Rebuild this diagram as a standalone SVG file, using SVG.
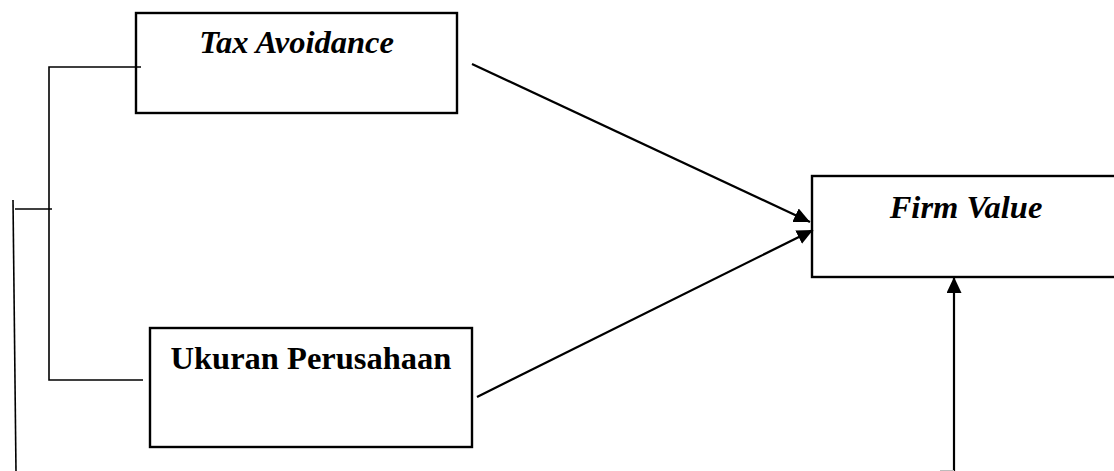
<svg xmlns="http://www.w3.org/2000/svg" width="1114" height="471" viewBox="0 0 1114 471">
<style>
.box{fill:#fff;stroke:#000;stroke-width:2.4}
.lbl{font-family:"Liberation Serif","Times New Roman",serif;font-weight:bold;font-size:32.5px;fill:#000;text-anchor:middle}
.it{font-style:italic}
.ln{stroke:#000;stroke-width:2.2;fill:none}
.br{stroke:#000;stroke-width:1.6;fill:none}
</style>
<defs>
<marker id="ah" markerUnits="userSpaceOnUse" markerWidth="18" markerHeight="16" refX="16" refY="7.5" orient="auto">
<path d="M0,0 L16,7.5 L0,15 z" fill="#000"/>
</marker>
</defs>
<g id="tax-avoidance">
<rect class="box" x="136" y="13" width="321" height="100"/>
<text class="lbl it" x="296.5" y="53">Tax Avoidance</text>
</g>
<g id="ukuran-perusahaan">
<rect class="box" x="150" y="328" width="322" height="119"/>
<text class="lbl" x="311" y="369">Ukuran Perusahaan</text>
</g>
<g id="firm-value">
<rect class="box" x="812" y="176" width="320" height="101"/>
<text class="lbl it" x="966" y="218">Firm Value</text>
</g>
<g id="connectors">
<polyline class="br" points="141,67 49,67 49,380 143,380"/>
<line class="br" x1="15" y1="209" x2="52" y2="209"/>
<line class="br" x1="13" y1="200" x2="16" y2="471"/>
<line class="ln" x1="472" y1="64" x2="810" y2="222" marker-end="url(#ah)"/>
<line class="ln" x1="477" y1="397" x2="813" y2="230" marker-end="url(#ah)"/>
<line class="ln" x1="954" y1="471" x2="954" y2="277" marker-end="url(#ah)"/>
<line x1="940" y1="470.5" x2="954" y2="470.5" stroke="#bbb" stroke-width="1"/>
</g>
</svg>
